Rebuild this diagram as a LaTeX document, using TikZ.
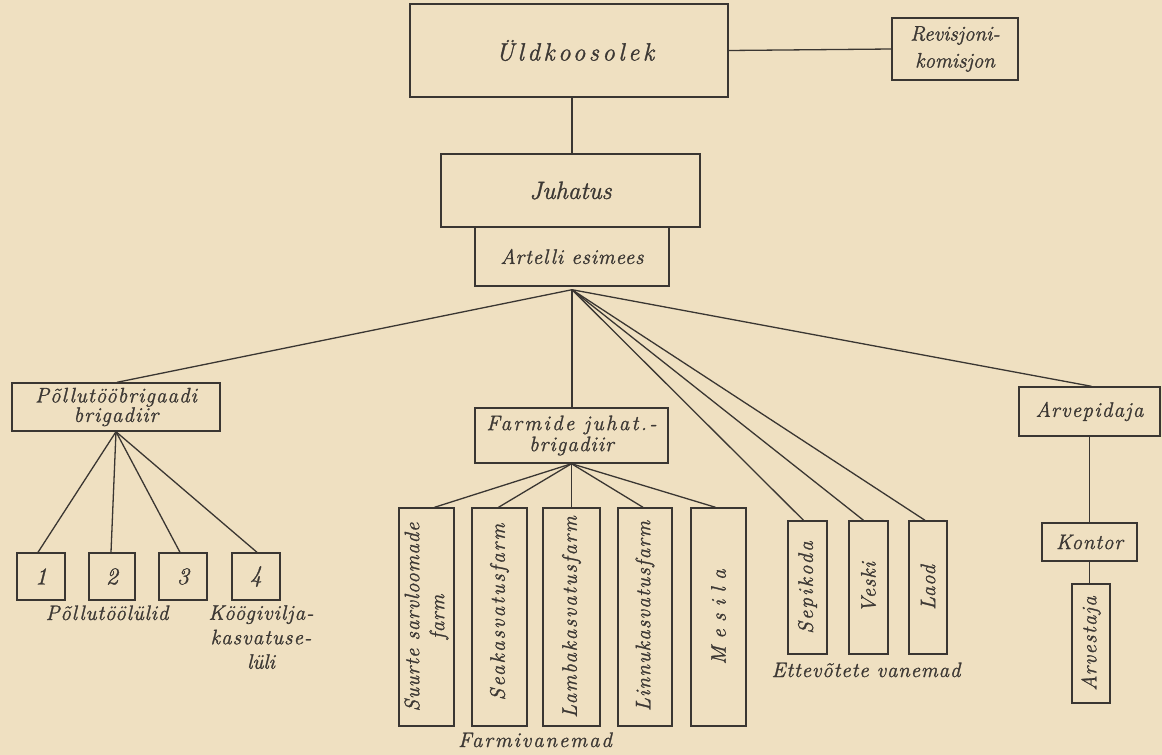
\documentclass[tikz,border=0pt]{standalone}
\usepackage{fontspec}
\setmainfont{Latin Modern Roman}[ItalicFeatures={FakeBold=1.2}]
\definecolor{paper}{RGB}{239,224,193}
\definecolor{ink}{RGB}{58,54,50}
\definecolor{txtc}{RGB}{60,56,52}
\newcommand\lsp[2]{{\addfontfeature{LetterSpace=#1}#2}}
\begin{document}
\begin{tikzpicture}[x=1pt,y=-1pt,
  box/.style={draw=ink, line width=1.4pt, rectangle, inner sep=0pt, text=txtc,
    font=\fontsize{21}{21}\selectfont\itshape, align=center},
  lbl/.style={text=txtc, inner sep=0pt, align=center,
    font=\fontsize{21}{25}\selectfont\itshape},
  vlbl/.style={lbl, rotate=90},
  conn/.style={draw=ink, line width=1.3pt}]
\fill[paper] (0,0) rectangle (1162,755);
\useasboundingbox (0,0) rectangle (1162,755);

% top
\node[box, minimum width=318pt, minimum height=93pt, font=\fontsize{25}{25}\selectfont\itshape] (ueld) at (569,50.5) {\hspace{12pt}\lsp{14}{Üldkoosolek}};
\node[box, minimum width=126pt, minimum height=62pt, font=\fontsize{21}{27}\selectfont\itshape] (rev) at (955,49) {Revisjoni-\\komisjon};
\node[box, minimum width=259pt, minimum height=73pt, font=\fontsize{25}{25}\selectfont\itshape] (juh) at (570.5,190.5) {Juhatus};
\node[box, minimum width=194pt, minimum height=59pt] (art) at (572,256.5) {\lsp{4}{Artelli esimees}};

% level 2
\node[box, minimum width=208pt, minimum height=48pt, font=\fontsize{21}{19.5}\selectfont\itshape] (pol) at (116,407) {\lsp{5}{Põllutööbrigaadi}\\\lsp{5}{brigadiir}};
\node[box, minimum width=193pt, minimum height=55pt, font=\fontsize{21}{21}\selectfont\itshape] (farm) at (571.5,435.5) {\lsp{11}{Farmide juhat.-}\\\lsp{5}{brigadiir}};
\node[box, minimum width=141pt, minimum height=49pt] (arv) at (1089.5,411.5) {\lsp{6}{Arvepidaja}};

% field links
\node[box, minimum width=48pt, minimum height=47pt, font=\fontsize{24}{24}\selectfont\itshape] (p1) at (41,576.5) {1};
\node[box, minimum width=46pt, minimum height=47pt, font=\fontsize{24}{24}\selectfont\itshape] (p2) at (112,576.5) {2};
\node[box, minimum width=48pt, minimum height=47pt, font=\fontsize{24}{24}\selectfont\itshape] (p3) at (183,576.5) {3};
\node[box, minimum width=48pt, minimum height=47pt, font=\fontsize{24}{24}\selectfont\itshape] (p4) at (256,576.5) {4};
\node[lbl, anchor=base] (pl) at (107,620) {\lsp{4}{Põllutöölülid}};
\node[lbl, anchor=north, font=\fontsize{21}{24.5}\selectfont\itshape] (kl) at (261,605) {\lsp{5}{Köögivilja-}\\\lsp{5}{kasvatuse-}\\lüli};

% farms
\node[box, minimum width=55pt, minimum height=218pt] (f1) at (426.5,617) {};
\node[box, minimum width=55pt, minimum height=218pt] (f2) at (499.5,617) {};
\node[box, minimum width=57pt, minimum height=218pt] (f3) at (571.5,617) {};
\node[box, minimum width=54pt, minimum height=218pt] (f4) at (645,617) {};
\node[box, minimum width=55pt, minimum height=218pt] (f5) at (718.5,617) {};
\node[vlbl, font=\fontsize{21}{25}\selectfont\itshape] (f1t) at (426.5,617) {\lsp{4}{Suurte sarvloomade}\\\lsp{4}{farm}};
\node[vlbl] (f2t) at (499.5,612) {\lsp{10}{Seakasvatusfarm}};
\node[vlbl] (f3t) at (571.5,617) {\lsp{8}{Lambakasvatusfarm}};
\node[vlbl] (f4t) at (645,616) {\lsp{6}{Linnukasvatusfarm}};
\node[vlbl] (f5t) at (718.5,617) {\lsp{35}{Mesila}};
\node[lbl, anchor=base] (fv) at (535,747) {\lsp{9}{Farmivanemad}};

% enterprises
\node[box, minimum width=39pt, minimum height=133pt] (e1) at (807.5,587.5) {};
\node[box, minimum width=39pt, minimum height=133pt] (e2) at (868.5,587.5) {};
\node[box, minimum width=38pt, minimum height=133pt] (e3) at (928,587.5) {};
\node[vlbl] (e1t) at (807.5,587.5) {\lsp{10}{Sepikoda}};
\node[vlbl] (e2t) at (868.5,587.5) {\lsp{4}{Veski}};
\node[vlbl] (e3t) at (928,587.5) {\lsp{4}{Laod}};
\node[lbl, anchor=base] (ev) at (866,677) {\lsp{4}{Ettevõtete}\hspace{8pt}\lsp{4}{vanemad}};

% accounting
\node[box, minimum width=95pt, minimum height=38pt] (kon) at (1089.5,542) {\lsp{4}{Kontor}};
\node[box, minimum width=38pt, minimum height=119pt] (arvs) at (1091,643.5) {};
\node[vlbl] (arvst) at (1091,643.5) {\lsp{6}{Arvestaja}};

% connectors
\draw[conn] (ueld.east) -- (rev.west);
\draw[conn] (art.south |- ueld.south) -- (art.south |- juh.north);
\coordinate (hub) at ([yshift=-3pt]art.south);
\draw[conn] (hub) -- ([xshift=1pt]pol.north);
\draw[conn] (hub) -- (hub |- farm.north);
\draw[conn] (hub) -- ([xshift=-4pt]e1.north);
\draw[conn] (hub) -- ([xshift=-5pt]e2.north);
\draw[conn] (hub) -- ([xshift=-3pt]e3.north);
\draw[conn] (hub) -- ([xshift=2pt]arv.north);

\draw[conn] (farm.south) -- ([xshift=8pt]f1.north);
\draw[conn] (farm.south) -- ([xshift=-1pt]f2.north);
\draw[conn] (farm.south) -- (farm.south |- f3.north);
\draw[conn] (farm.south) -- ([xshift=-2pt]f4.north);
\draw[conn] (farm.south) -- ([xshift=-3pt]f5.north);

\draw[conn] (pol.south) -- ([xshift=-3pt]p1.north);
\draw[conn] (pol.south) -- ([xshift=-1pt]p2.north);
\draw[conn] (pol.south) -- ([xshift=-3pt]p3.north);
\draw[conn] (pol.south) -- ([xshift=1pt]p4.north);

\draw[conn] (arv.south) -- (arv.south |- kon.north);
\draw[conn] (kon.south) -- (kon.south |- arvs.north);
\end{tikzpicture}
\end{document}
